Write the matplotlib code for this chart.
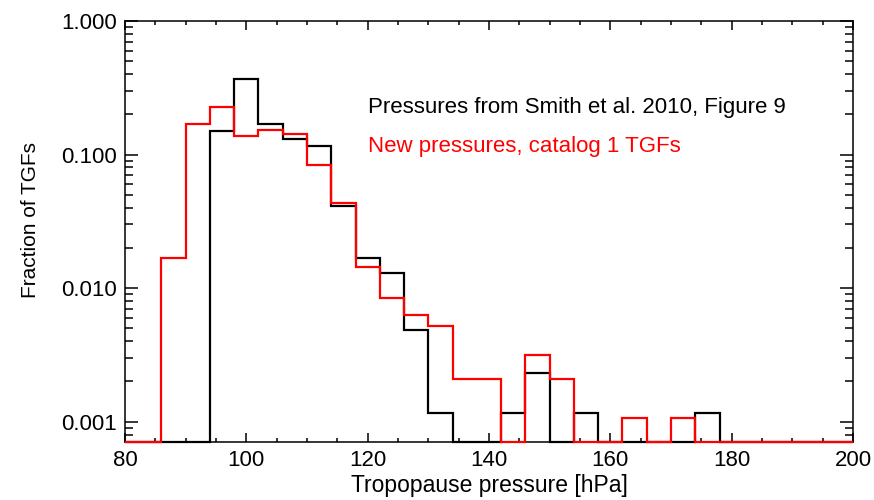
import numpy as np
import matplotlib
matplotlib.use("Agg")
import matplotlib.pyplot as plt
from matplotlib.ticker import LogLocator, FixedLocator, FormatStrFormatter, MultipleLocator, NullFormatter

plt.rcParams['font.family'] = ['Liberation Sans', 'DejaVu Sans']

# histogram bins, 4 hPa wide
bin_edges = np.arange(78, 206, 4)

# Smith et al. 2010, Figure 9
smith_frac = [0, 0, 0, 0, 0.151, 0.368, 0.168, 0.130, 0.116, 0.0411,
              0.0167, 0.0129, 0.00485, 0.00116, 0, 0, 0.00116, 0.00232, 0, 0.00116,
              0, 0, 0, 0, 0.00116, 0, 0, 0, 0, 0, 0]
# new pressures, catalog 1 TGFs
new_frac = [0, 0, 0.0167, 0.168, 0.228, 0.138, 0.153, 0.142, 0.0834, 0.0431,
            0.01445, 0.00837, 0.00628, 0.00519, 0.00207, 0.00207, 0, 0.00315, 0.00207, 0,
            0, 0.00106, 0, 0.00106, 0, 0, 0, 0, 0, 0, 0]

xmin, xmax = 80, 200
ymin, ymax = 7.08e-4, 1.0

fig = plt.figure(figsize=(8.74, 5.0), dpi=100)
ax = fig.add_axes([0.143, 0.1166, 0.833, 0.8414])

edges = np.clip(bin_edges, xmin, xmax)
for vals, col in [(smith_frac, 'black'), (new_frac, '#ff0000')]:
    v = np.array(vals, dtype=float)
    v = np.where(v > 0, v, ymin)  # empty bins sit on the floor
    ax.stairs(v, edges, baseline=None, color=col, lw=1.6, zorder=3, clip_on=False)

ax.set_xlim(xmin, xmax)
ax.set_yscale('log')
ax.set_ylim(ymin, ymax)

ax.xaxis.set_major_locator(MultipleLocator(20))
ax.xaxis.set_minor_locator(MultipleLocator(5))
ax.yaxis.set_major_locator(FixedLocator([0.001, 0.01, 0.1, 1.0]))
ax.yaxis.set_major_formatter(FormatStrFormatter('%.3f'))
ax.yaxis.set_minor_locator(LogLocator(base=10, subs=np.arange(2, 10)))
ax.yaxis.set_minor_formatter(NullFormatter())

ax.tick_params(which='both', direction='in', top=True, right=True, labelsize=16, width=1.1)
ax.tick_params(axis='x', which='major', length=6.7, pad=6)
ax.tick_params(axis='x', which='minor', length=3.1)
ax.tick_params(axis='y', which='major', length=9.4, pad=6)
ax.tick_params(axis='y', which='minor', length=5.5)
for s in ax.spines.values():
    s.set_linewidth(1.1)

ax.set_xlabel('Tropopause pressure [hPa]', fontsize=16.5, labelpad=2)
ax.set_ylabel('Fraction of TGFs', fontsize=15)
ax.yaxis.set_label_coords(-0.117, 0.527)

ax.text(120, 0.205, 'Pressures from Smith et al. 2010, Figure 9', fontsize=16,
        color='black', va='baseline', ha='left')
ax.text(120, 0.105, 'New pressures, catalog 1 TGFs', fontsize=16,
        color='#ff0000', va='baseline', ha='left')

fig.savefig('out.png', dpi=100)
